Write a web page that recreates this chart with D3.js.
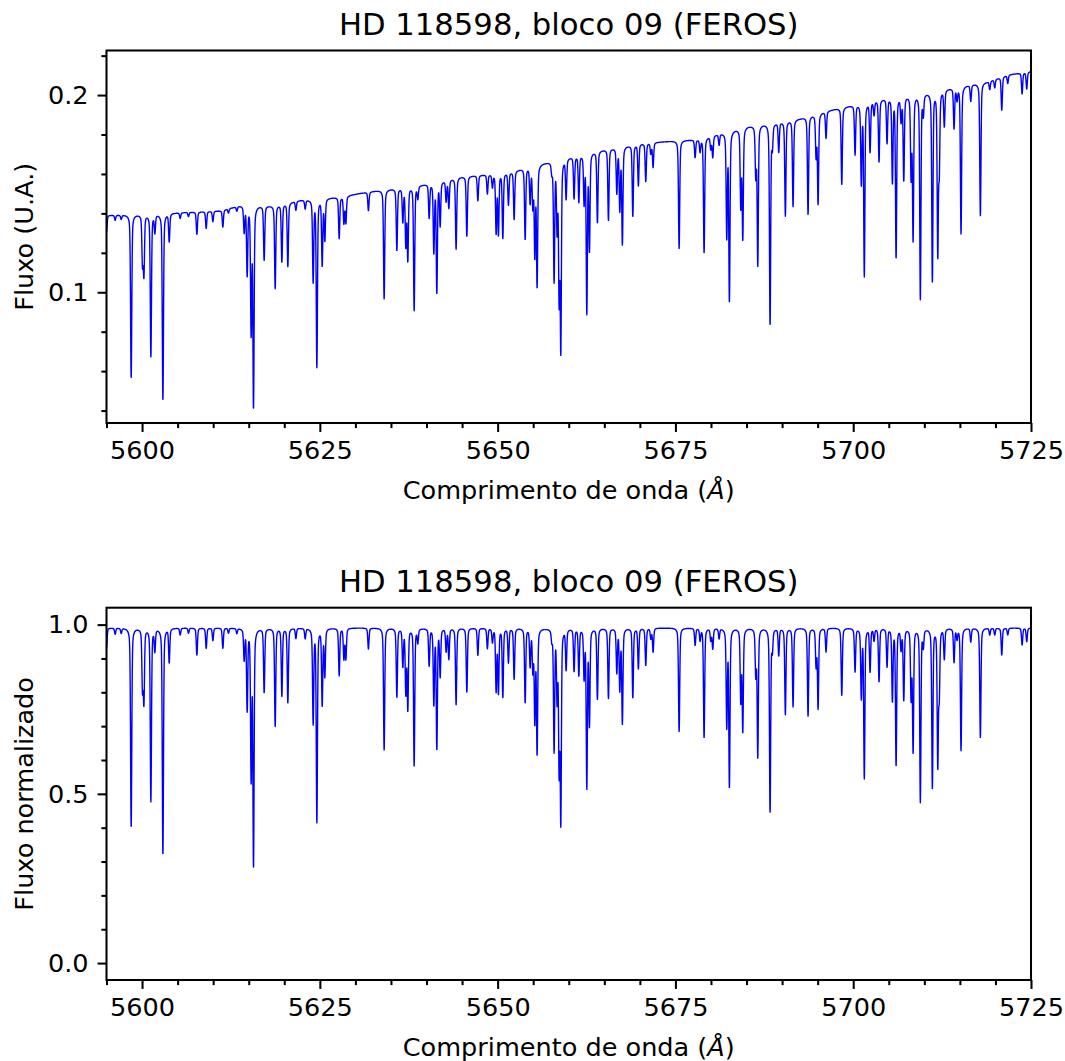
<!DOCTYPE html>
<html>
<head>
<meta charset="utf-8">
<script src="https://cdn.jsdelivr.net/npm/d3@7"></script>
<style>
  body { margin: 0; background: #fff; }
  svg { display: block; font-family: "DejaVu Sans", sans-serif; }
</style>
</head>
<body>
<div id="chart"></div>
<script>
// Absorption lines: centre (Å) and core flux
const lineWave = [
  5595.00, 5596.22, 5597.07, 5598.47, 5600.06, 5600.26, 5601.24, 5601.80, 5602.93, 5603.82,
  5605.36, 5606.53, 5607.71, 5609.02, 5609.96, 5611.36, 5612.15, 5613.33, 5614.36, 5614.78,
  5615.34, 5615.67, 5617.17, 5618.72, 5619.66, 5620.50, 5621.63, 5622.94, 5624.06, 5624.58,
  5625.33, 5625.70, 5627.72, 5628.38, 5628.66, 5631.83, 5634.04, 5635.83, 5636.67, 5637.09,
  5637.37, 5638.26, 5638.78, 5640.37, 5641.03, 5641.45, 5641.92, 5642.76, 5643.14, 5644.16,
  5645.67, 5647.22, 5648.56, 5649.27, 5649.79, 5650.11, 5650.73, 5651.52, 5652.32, 5653.87,
  5654.57, 5654.95, 5655.23, 5655.55, 5657.62, 5657.94, 5658.36, 5658.65, 5658.88, 5659.63,
  5660.75, 5661.42, 5662.16, 5662.54, 5662.91, 5664.03, 5665.58, 5666.76, 5667.18, 5667.54,
  5669.01, 5669.79, 5670.83, 5671.54, 5671.86, 5675.52, 5677.77, 5678.47, 5679.03, 5679.97,
  5680.25, 5681.14, 5682.22, 5682.59, 5684.19, 5684.47, 5686.30, 5686.58, 5688.31, 5688.63,
  5689.53, 5690.46, 5691.54, 5693.65, 5694.78, 5695.06, 5696.18, 5698.39, 5700.26, 5701.14,
  5701.56, 5702.37, 5702.93, 5703.63, 5704.76, 5705.51, 5706.03, 5706.73, 5707.11, 5708.14,
  5708.42, 5709.44, 5709.86, 5711.13, 5711.89, 5712.10, 5712.81, 5714.18, 5714.60, 5715.16,
  5716.53, 5717.88, 5719.20, 5719.90, 5720.89, 5721.73, 5723.75, 5724.40
];
const lineCore = [
  0.930, 0.972, 0.975, 0.400, 0.815, 0.776, 0.478, 0.926, 0.319, 0.890,
  0.970, 0.975, 0.910, 0.930, 0.953, 0.930, 0.975, 0.975, 0.900, 0.750,
  0.545, 0.284, 0.800, 0.700, 0.790, 0.770, 0.960, 0.960, 0.710, 0.417,
  0.764, 0.850, 0.850, 0.900, 0.900, 0.928, 0.630, 0.786, 0.880, 0.800,
  0.752, 0.584, 0.950, 0.880, 0.766, 0.634, 0.850, 0.923, 0.900, 0.764,
  0.800, 0.910, 0.930, 0.950, 0.805, 0.800, 0.786, 0.889, 0.840, 0.770,
  0.880, 0.870, 0.715, 0.620, 0.960, 0.628, 0.786, 0.570, 0.417, 0.870,
  0.864, 0.852, 0.847, 0.520, 0.705, 0.780, 0.783, 0.860, 0.810, 0.710,
  0.784, 0.870, 0.880, 0.960, 0.920, 0.684, 0.940, 0.955, 0.665, 0.955,
  0.930, 0.960, 0.700, 0.520, 0.776, 0.687, 0.855, 0.610, 0.444, 0.930,
  0.910, 0.735, 0.758, 0.729, 0.880, 0.754, 0.920, 0.790, 0.862, 0.786,
  0.547, 0.862, 0.955, 0.832, 0.877, 0.776, 0.584, 0.930, 0.778, 0.786,
  0.628, 0.476, 0.940, 0.515, 0.584, 0.800, 0.900, 0.890, 0.960, 0.628,
  0.950, 0.667, 0.970, 0.970, 0.910, 0.970, 0.940, 0.950
];
// level of the line-free parts in the normalized spectrum
const normTop = 0.99;

// upper envelope of the raw (not normalized) spectrum, U.A.
const contWave = [5595.0, 5597.0, 5603.3, 5611.0, 5613.8, 5618.5, 5622.3, 5627.9, 5632.1, 5636.3,
  5640.5, 5644.7, 5649.0, 5651.8, 5656.0, 5663.0, 5670.0, 5678.1, 5685.1, 5688.8,
  5692.6, 5695.8, 5701.0, 5704.3, 5709.9, 5714.7, 5718.9, 5721.7, 5725.0];
const contFlux = [0.1390, 0.1392, 0.1400, 0.1413, 0.1440, 0.1440, 0.1467, 0.1484, 0.1510, 0.1530,
  0.1552, 0.1585, 0.1599, 0.1611, 0.1653, 0.1712, 0.1755, 0.1775, 0.1843, 0.1860,
  0.1882, 0.1915, 0.1958, 0.1983, 0.2012, 0.2042, 0.2068, 0.2102, 0.2120];

const xMajorTicks = [5600, 5625, 5650, 5675, 5700, 5725];
const xMinorTicks = [5595, 5605, 5610, 5615, 5620, 5630, 5635, 5640, 5645, 5655, 5660,
  5665, 5670, 5680, 5685, 5690, 5695, 5705, 5710, 5715, 5720];
const yTopMajor = [0.1, 0.2];
const yTopMinor = [0.04, 0.06, 0.08, 0.12, 0.14, 0.16, 0.18, 0.22];
const yBotMajor = [0.0, 0.5, 1.0];
const yBotMinor = [0.1, 0.2, 0.3, 0.4, 0.6, 0.7, 0.8, 0.9];

const titleText = 'HD 118598, bloco 09 (FEROS)';

// ---- layout (px) ----
const W = 1065, H = 1061;
const axLeft = 106.5, axRight = 1031;
const pt = 184 / 72;            // figure was saved at ~184 dpi
const majorLen = 3.5 * pt, minorLen = 2 * pt, tickPad = 3.5 * pt, tickW = 0.8 * pt;
const fsTick = 10 * pt, fsTitle = 12 * pt;

const svg = d3.select('#chart').append('svg')
  .attr('width', W).attr('height', H)
  .attr('viewBox', `0 0 ${W} ${H}`);
svg.append('rect').attr('width', W).attr('height', H).attr('fill', '#fff');

const x = d3.scaleLinear().domain([5595, 5725]).range([axLeft, axRight]);

// line profile: gaussian core with lorentzian wings
const sigma = 0.08, gamma = 0.12;
function profile(dx) {
  return 0.7 * Math.exp(-dx * dx / (2 * sigma * sigma)) + 0.3 / (1 + (dx / gamma) ** 2);
}

const grid = d3.range(5595, 5725.001, 0.02);
const contScale = d3.scaleLinear().domain(contWave).range(contFlux);
const spectrum = grid.map(w => {
  let f = normTop;
  lineWave.forEach((lw, i) => {
    const dx = w - lw;
    if (Math.abs(dx) < 3) f *= 1 - (1 - lineCore[i] / normTop) * profile(dx);
  });
  return { w, norm: f, raw: contScale(w) * f / normTop };
});

const panels = [
  { top: 50.5, bottom: 423, domain: [0.0337, 0.2226], major: yTopMajor, minor: yTopMinor,
    ylabel: 'Fluxo (U.A.)', key: 'raw' },
  { top: 607.7, bottom: 980, domain: [-0.05, 1.05], major: yBotMajor, minor: yBotMinor,
    ylabel: 'Fluxo normalizado', key: 'norm' }
];

panels.forEach(p => {
  const y = d3.scaleLinear().domain(p.domain).range([p.bottom, p.top]);
  const g = svg.append('g');

  // spectrum
  g.append('path')
    .datum(spectrum)
    .attr('fill', 'none')
    .attr('stroke', '#0000ff')
    .attr('stroke-width', 1.4)
    .attr('stroke-linejoin', 'round')
    .attr('d', d3.line().x(d => x(d.w)).y(d => y(d[p.key])));

  // x axis
  g.append('g').attr('transform', `translate(0,${p.bottom})`)
    .call(d3.axisBottom(x).tickValues(xMajorTicks).tickSize(majorLen)
      .tickPadding(tickPad).tickFormat(d3.format('d')));
  g.append('g').attr('transform', `translate(0,${p.bottom})`)
    .call(d3.axisBottom(x).tickValues(xMinorTicks).tickSize(minorLen).tickFormat(''));

  // y axis
  g.append('g').attr('transform', `translate(${axLeft},0)`)
    .call(d3.axisLeft(y).tickValues(p.major).tickSize(majorLen)
      .tickPadding(tickPad).tickFormat(d3.format('.1f')));
  g.append('g').attr('transform', `translate(${axLeft},0)`)
    .call(d3.axisLeft(y).tickValues(p.minor).tickSize(minorLen).tickFormat(''));

  g.selectAll('.domain').remove();
  g.selectAll('.tick line').attr('stroke', '#000').attr('stroke-width', tickW);
  g.selectAll('.tick text')
    .attr('fill', '#000')
    .style('font-family', '"DejaVu Sans", sans-serif')
    .style('font-size', fsTick + 'px');

  // frame
  g.append('rect')
    .attr('x', axLeft).attr('y', p.top)
    .attr('width', axRight - axLeft).attr('height', p.bottom - p.top)
    .attr('fill', 'none').attr('stroke', '#000').attr('stroke-width', tickW);

  // title
  g.append('text')
    .attr('x', (axLeft + axRight) / 2).attr('y', p.top - 6 * pt)
    .attr('text-anchor', 'middle')
    .style('font-size', fsTitle + 'px')
    .text(titleText);

  // x label
  const xl = g.append('text')
    .attr('x', (axLeft + axRight) / 2).attr('y', p.bottom + 76)
    .attr('text-anchor', 'middle')
    .style('font-size', fsTick + 'px');
  xl.append('tspan').text('Comprimento de onda (');
  xl.append('tspan').style('font-style', 'italic').text('Å');
  xl.append('tspan').text(')');

  // y label
  g.append('text')
    .attr('transform', `translate(33.3,${(p.top + p.bottom) / 2}) rotate(-90)`)
    .attr('text-anchor', 'middle')
    .style('font-size', fsTick + 'px')
    .text(p.ylabel);
});
</script>
</body>
</html>
